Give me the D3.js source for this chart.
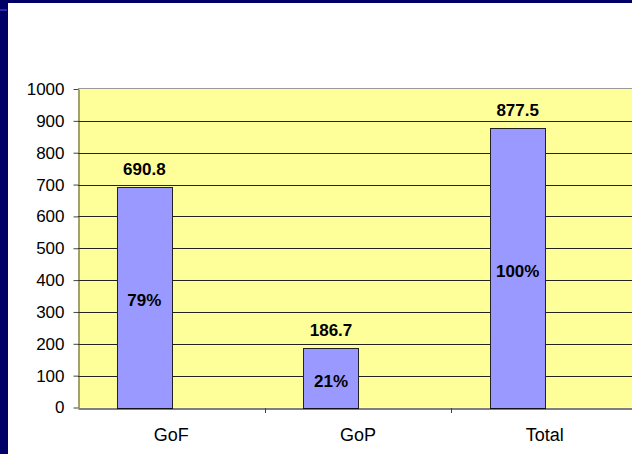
<!DOCTYPE html>
<html lang="en">
<head>
  <meta charset="UTF-8">
  <title>GoF / GoP / Total</title>
  <script src="https://d3js.org/d3.v7.min.js"></script>
  <style>
    body { margin: 0; background: #fff; }
    text { font-family: Arial, "Liberation Sans", sans-serif; fill: #000; }
    .tick-label { font-size: 17px; }
    .cat-label { font-size: 18px; }
    .value-label { font-size: 17px; font-weight: bold; }
  </style>
</head>
<body>
<svg width="632" height="454"></svg>

<script>
  // data
  const categories = ["GoF", "GoP", "Total"];
  const values = [690.8, 186.7, 877.5];
  const shares = [79, 21, 100];
  const yTicks = [0, 100, 200, 300, 400, 500, 600, 700, 800, 900, 1000];

  const svg = d3.select("svg");

  // slide frame (navy strips on the left and top)
  svg.append("rect").attr("x", 0).attr("y", 0).attr("width", 8).attr("height", 454).attr("fill", "#000066");
  svg.append("rect").attr("x", 0).attr("y", 0).attr("width", 632).attr("height", 3).attr("fill", "#000066");
  svg.append("rect").attr("x", 0).attr("y", 9).attr("width", 7).attr("height", 2).attr("fill", "#2a2aa8");

  const plot = { left: 78, right: 638, top: 89, bottom: 407.5 };

  const x = d3.scaleBand()
          .domain(categories)
          .range([plot.left, plot.right]);

  // bars sit a bit left of the category centre in the original
  const xBar = d3.scaleBand()
          .domain(categories)
          .range([plot.left - 27, plot.right - 27])
          .paddingInner(0.705)
          .paddingOuter(0.3525);

  const y = d3.scaleLinear()
          .domain([0, 1000])
          .range([plot.bottom, plot.top]);

  // plot background
  svg.append("rect")
          .attr("x", plot.left)
          .attr("y", plot.top)
          .attr("width", plot.right - plot.left)
          .attr("height", plot.bottom - plot.top)
          .attr("fill", "#FFFF99");

  // grid lines
  svg.append("g")
          .selectAll("line")
          .data(yTicks.filter(d => d > 0 && d < 1000))
          .join("line")
          .attr("x1", plot.left)
          .attr("x2", plot.right)
          .attr("y1", d => Math.round(y(d)) + 0.5)
          .attr("y2", d => Math.round(y(d)) + 0.5)
          .attr("stroke", "#222")
          .attr("stroke-width", 1);

  // top border
  svg.append("line")
          .attr("x1", plot.left).attr("x2", plot.right)
          .attr("y1", plot.top - 0.5).attr("y2", plot.top - 0.5)
          .attr("stroke", "#999");

  // bars
  svg.append("g")
          .selectAll("rect")
          .data(values)
          .join("rect")
          .attr("x", (d, i) => Math.round(xBar(categories[i])) + 0.5)
          .attr("y", d => Math.round(y(d)) + 0.5)
          .attr("width", Math.round(xBar.bandwidth()))
          .attr("height", d => Math.round(y(0)) - Math.round(y(d)))
          .attr("fill", "#9999FF")
          .attr("stroke", "#222")
          .attr("stroke-width", 1);

  // y axis
  const yAxis = svg.append("g")
          .attr("transform", `translate(${plot.left + 0.5},0)`)
          .call(d3.axisLeft(y).tickValues(yTicks).tickFormat(d3.format("d"))
                  .tickSize(5).tickSizeOuter(0).tickPadding(9));
  yAxis.select(".domain").attr("stroke", "#444");
  yAxis.selectAll(".tick line").attr("stroke", "#444");
  yAxis.selectAll(".tick text")
          .attr("class", "tick-label")
          .attr("font-family", null)
          .attr("font-size", null);

  // x axis
  const xAxis = svg.append("g")
          .attr("transform", `translate(0,${Math.round(plot.bottom) + 0.5})`)
          .call(d3.axisBottom(x).tickSize(0).tickSizeOuter(0).tickPadding(20));
  xAxis.select(".domain").attr("stroke", "#000").attr("stroke-width", 1.2);
  xAxis.selectAll(".tick text")
          .attr("class", "cat-label")
          .attr("font-family", null)
          .attr("font-size", null);

  // tick marks between categories
  svg.append("g")
          .selectAll("line")
          .data(categories.slice(1))
          .join("line")
          .attr("x1", d => Math.round(x(d)) + 0.5)
          .attr("x2", d => Math.round(x(d)) + 0.5)
          .attr("y1", Math.round(plot.bottom))
          .attr("y2", Math.round(plot.bottom) + 5)
          .attr("stroke", "#444");

  // value labels above bars
  svg.append("g")
          .selectAll("text")
          .data(values)
          .join("text")
          .attr("class", "value-label")
          .attr("x", (d, i) => xBar(categories[i]) + xBar.bandwidth() / 2)
          .attr("y", d => y(d) - 12)
          .attr("text-anchor", "middle")
          .text(d => d.toFixed(1));

  // share labels inside bars
  svg.append("g")
          .selectAll("text")
          .data(shares)
          .join("text")
          .attr("class", "value-label")
          .attr("x", (d, i) => xBar(categories[i]) + xBar.bandwidth() / 2)
          .attr("y", (d, i) => (y(values[i]) + y(0)) / 2 + 9)
          .attr("text-anchor", "middle")
          .text(d => d + "%");
</script>
</body>
</html>
